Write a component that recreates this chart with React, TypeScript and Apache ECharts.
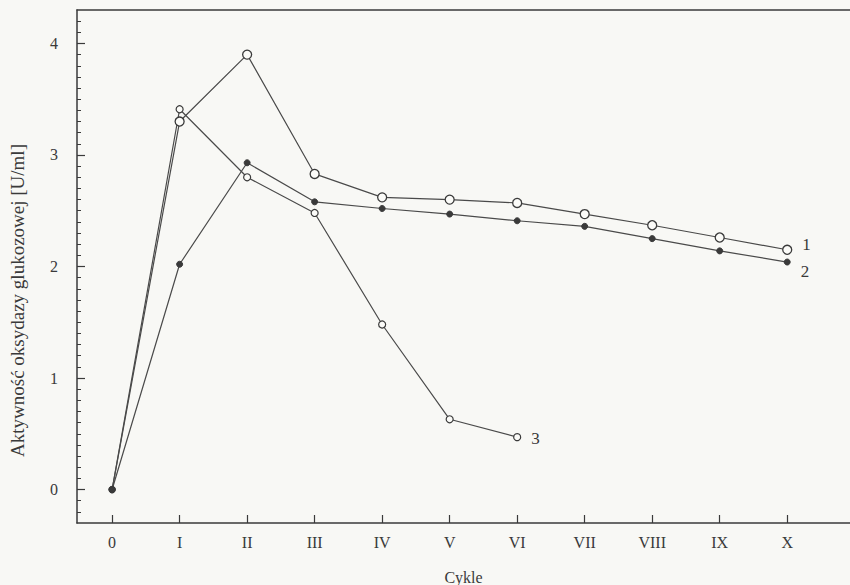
import React, { useEffect, useRef } from "react";
import * as echarts from "echarts";

const cycles = [0, 1, 2, 3, 4, 5, 6, 7, 8, 9, 10];
const cycleLabels = ["0", "I", "II", "III", "IV", "V", "VI", "VII", "VIII", "IX", "X"];
const series1 = [0, 3.3, 3.9, 2.83, 2.62, 2.6, 2.57, 2.47, 2.37, 2.26, 2.15];
const series2 = [0, 2.02, 2.93, 2.58, 2.52, 2.47, 2.41, 2.36, 2.25, 2.14, 2.04];
const series3 = [0, 3.41, 2.8, 2.48, 1.48, 0.63, 0.47];
const yMajorTicks = [0, 1, 2, 3, 4];
const yMinorTicks = [-0.2, -0.1, 0.1, 0.2, 0.3, 0.4, 0.5, 0.6, 0.7, 0.8, 0.9, 1.1, 1.2, 1.3, 1.4, 1.5, 1.6, 1.7, 1.8, 1.9, 2.1, 2.2, 2.3, 2.4, 2.5, 2.6, 2.7, 2.8, 2.9, 3.1, 3.2, 3.3, 3.4, 3.5, 3.6, 3.7, 3.8, 3.9, 4.1, 4.2];
const seriesNames = ["1", "2", "3"];
const yTitle = "Aktywność oksydazy glukozowej [U/ml]";
const xTitle = "Cykle";

const INK = "#3a3a3a";
const FONT = "'Liberation Serif', 'Times New Roman', serif";

function build(values: number[], name: string, labelOffset: number[]) {
  return values.map((v, i) => {
    const item: any = { value: [cycles[i], v] };
    if (i === 0) {
      item.symbol = "circle";
      item.symbolSize = 6;
      item.itemStyle = { color: INK, borderColor: INK };
    }
    if (i === values.length - 1) {
      item.label = {
        show: true,
        formatter: name,
        position: "right",
        distance: 10,
        offset: labelOffset,
        color: INK,
        fontFamily: FONT,
        fontSize: 17,
      };
    }
    return item;
  });
}

export default function App() {
  const ref = useRef<HTMLDivElement>(null);
  useEffect(() => {
    if (!ref.current) return;
    const chart = echarts.init(ref.current, null, { renderer: "svg" });
    const lineStyle = { color: "#4a4a4a", width: 1.2 };
    chart.setOption({
      animation: false,
      backgroundColor: "#f8f8f5",
      grid: { left: 77, right: 0, top: 10, bottom: 62, containLabel: false, outerBoundsMode: "none" },
      xAxis: [
        {
          type: "value",
          min: -0.52,
          max: 10.93,
          axisLine: { show: true, onZero: false, lineStyle: { color: INK, width: 1.5 } },
          axisTick: {
            show: true,
            inside: true,
            length: 8,
            customValues: cycles,
            lineStyle: { color: INK, width: 1.2 },
          },
          axisLabel: {
            show: true,
            customValues: cycles,
            formatter: (v: number) => cycleLabels[Math.round(v)] ?? "",
            margin: 11,
            color: INK,
            fontFamily: FONT,
            fontSize: 16,
          },
          splitLine: { show: false },
          name: xTitle,
          nameLocation: "middle",
          nameGap: 46,
          nameTextStyle: { color: INK, fontFamily: FONT, fontSize: 16 },
        },
        {
          type: "value",
          position: "top",
          min: -0.52,
          max: 10.93,
          axisLine: { show: true, onZero: false, lineStyle: { color: INK, width: 1.5 } },
          axisTick: { show: false },
          axisLabel: { show: false },
          splitLine: { show: false },
        },
      ],
      yAxis: [
        {
          type: "value",
          min: -0.3,
          max: 4.3,
          axisLine: { show: true, onZero: false, lineStyle: { color: INK, width: 1.5 } },
          axisTick: {
            show: true,
            inside: true,
            length: 8,
            customValues: yMajorTicks,
            lineStyle: { color: INK, width: 1.2 },
          },
          axisLabel: {
            show: true,
            customValues: yMajorTicks,
            margin: 19,
            color: INK,
            fontFamily: FONT,
            fontSize: 16,
          },
          splitLine: { show: false },
          name: yTitle,
          nameLocation: "middle",
          nameRotate: 90,
          nameGap: 50,
          nameTextStyle: { color: INK, fontFamily: FONT, fontSize: 19, padding: [0, 0, 0, -68] },
        },
        {
          type: "value",
          min: -0.3,
          max: 4.3,
          position: "left",
          axisLine: { show: false, onZero: false },
          axisTick: {
            show: true,
            inside: true,
            length: 4,
            customValues: yMinorTicks,
            lineStyle: { color: INK, width: 1 },
          },
          axisLabel: { show: false },
          splitLine: { show: false },
        },
      ],
      series: [
        {
          type: "line",
          name: seriesNames[0],
          data: build(series1, seriesNames[0], [0, -5]),
          symbol: "circle",
          symbolSize: 9,
          itemStyle: { color: "#fbfbf8", borderColor: INK, borderWidth: 1.3 },
          lineStyle,
          z: 3,
        },
        {
          type: "line",
          name: seriesNames[1],
          data: build(series2, seriesNames[1], [0, 9]),
          symbol: "circle",
          symbolSize: 6,
          itemStyle: { color: INK, borderColor: INK, borderWidth: 1 },
          lineStyle,
          z: 3,
        },
        {
          type: "line",
          name: seriesNames[2],
          data: build(series3, seriesNames[2], [0, 1]),
          symbol: "circle",
          symbolSize: 7,
          itemStyle: { color: "#fbfbf8", borderColor: INK, borderWidth: 1.2 },
          lineStyle,
          z: 3,
        },
      ],
    });
    return () => chart.dispose();
  }, []);
  return (
    <div
      ref={ref}
      style={{ position: "fixed", left: 0, top: 0, width: 850, height: 585 }}
    />
  );
}
